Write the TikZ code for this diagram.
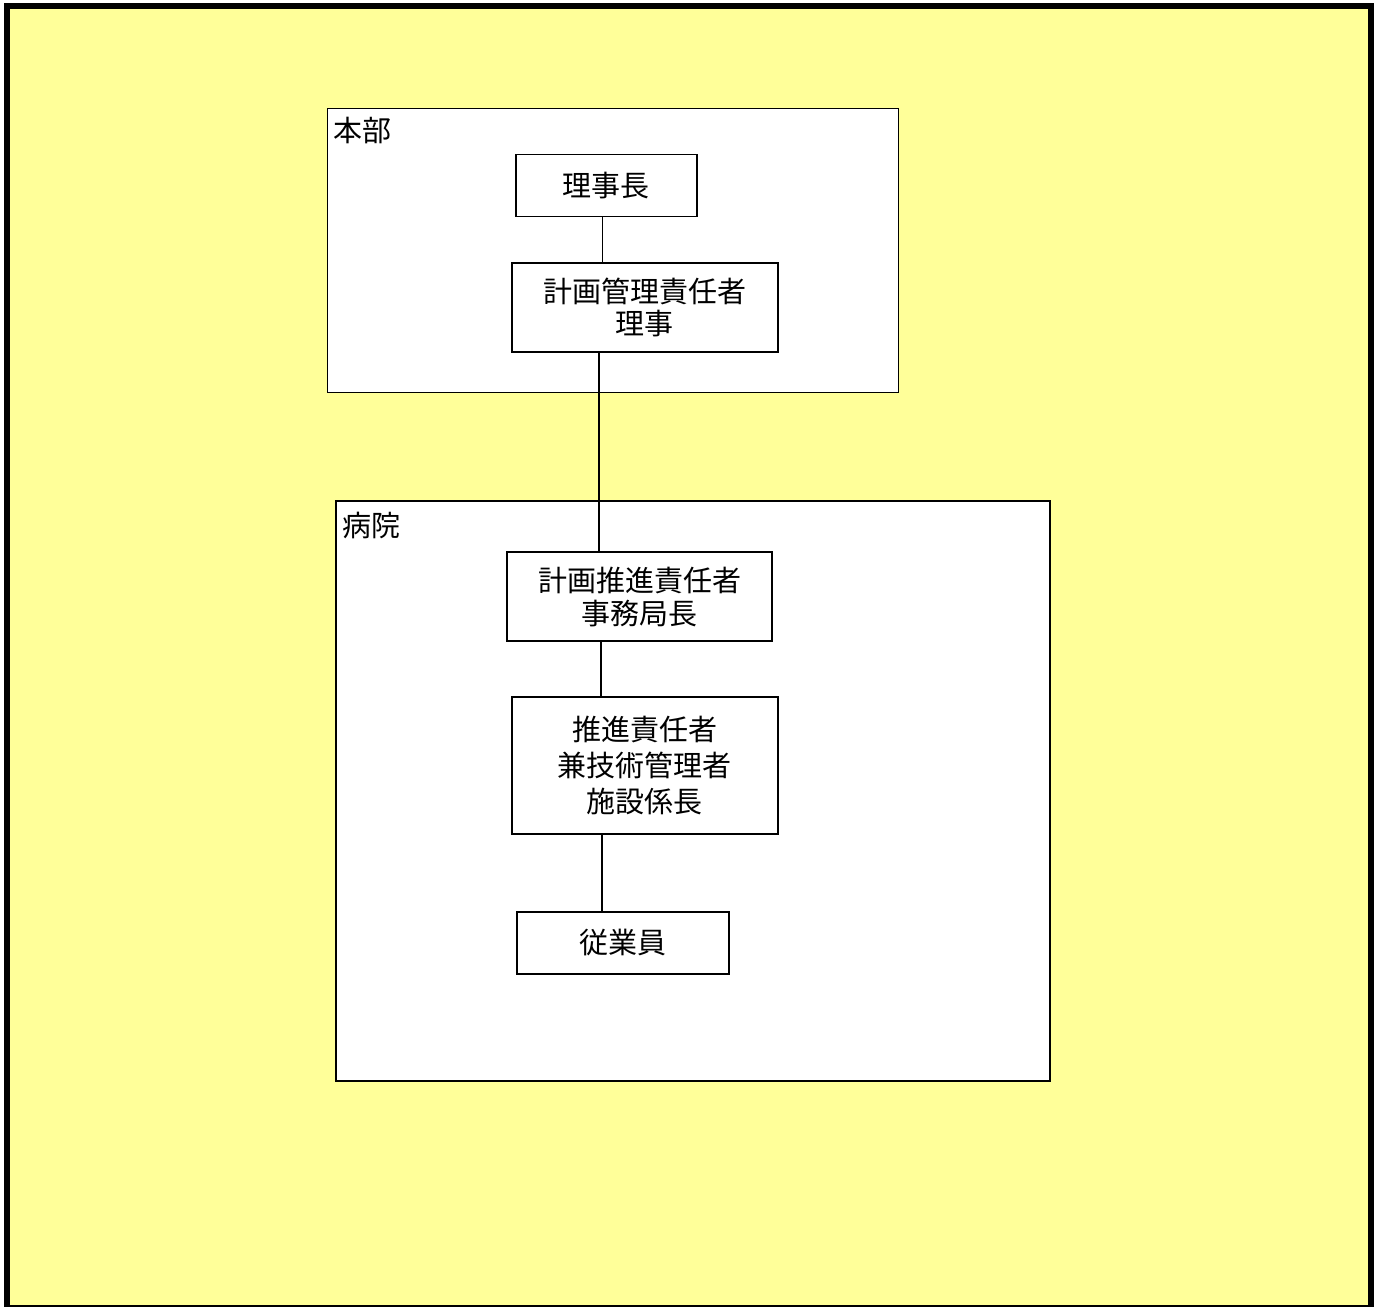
\documentclass[tikz,border=0pt]{standalone}
\usepackage{fontspec}
\setmainfont{Noto Sans CJK JP}
\definecolor{bgyellow}{HTML}{FFFF99}
\begin{document}
\begin{tikzpicture}[x=1pt,y=-1pt,
  frame/.style={draw, fill=white, line width=1.6pt, inner sep=0pt, anchor=north west},
  post/.style={draw, fill=white, line width=1.6pt, inner sep=0pt, align=center,
    font=\fontsize{29}{33}\selectfont},
  grouptitle/.style={inner sep=0pt, anchor=west, font=\fontsize{29}{33}\selectfont},
  link/.style={line width=1.6pt}]
\useasboundingbox (0,0) rectangle (1378,1306);
\fill[bgyellow] (7,6) rectangle (1370.5,1308);
\draw[line width=6pt] (7,6) rectangle (1370.5,1308);
% group frames
\node[frame, minimum width=571pt, minimum height=284pt] (honbu) at (326.5,107.5) {};
\node[frame, minimum width=714pt, minimum height=580pt] (byoin) at (335,500) {};
\node[grouptitle] (honbulbl) at (333,131) {本部};
\node[grouptitle] (byoinlbl) at (342,525) {病院};
% posts
\node[post, minimum width=181pt, minimum height=62pt] (rijicho) at (606.3,185.5) {理事長};
\node[post, minimum width=266pt, minimum height=89pt, font=\fontsize{29}{32.5}\selectfont] (keikakukanri) at (644.7,307.2) {計画管理責任者\\理事};
\node[post, minimum width=265pt, minimum height=89pt] (keikakusuishin) at (639.5,596.5) {計画推進責任者\\事務局長};
\node[post, minimum width=266pt, minimum height=137pt, font=\fontsize{29}{36}\selectfont] (suishin) at (644.8,765.5) {推進責任者\\兼技術管理者\\施設係長};
\node[post, minimum width=212pt, minimum height=62pt] (jugyoin) at (623,943) {従業員};
% connectors
\coordinate (c1) at (602.4,0);
\coordinate (c2) at (598.8,0);
\coordinate (c3) at (600.7,0);
\coordinate (c4) at (602.2,0);
\draw[link] (rijicho.south -| c1) -- (keikakukanri.north -| c1);
\draw[link] (keikakukanri.south -| c2) -- (keikakusuishin.north -| c2);
\draw[link] (keikakusuishin.south -| c3) -- (suishin.north -| c3);
\draw[link] (suishin.south -| c4) -- (jugyoin.north -| c4);
\end{tikzpicture}
\end{document}
